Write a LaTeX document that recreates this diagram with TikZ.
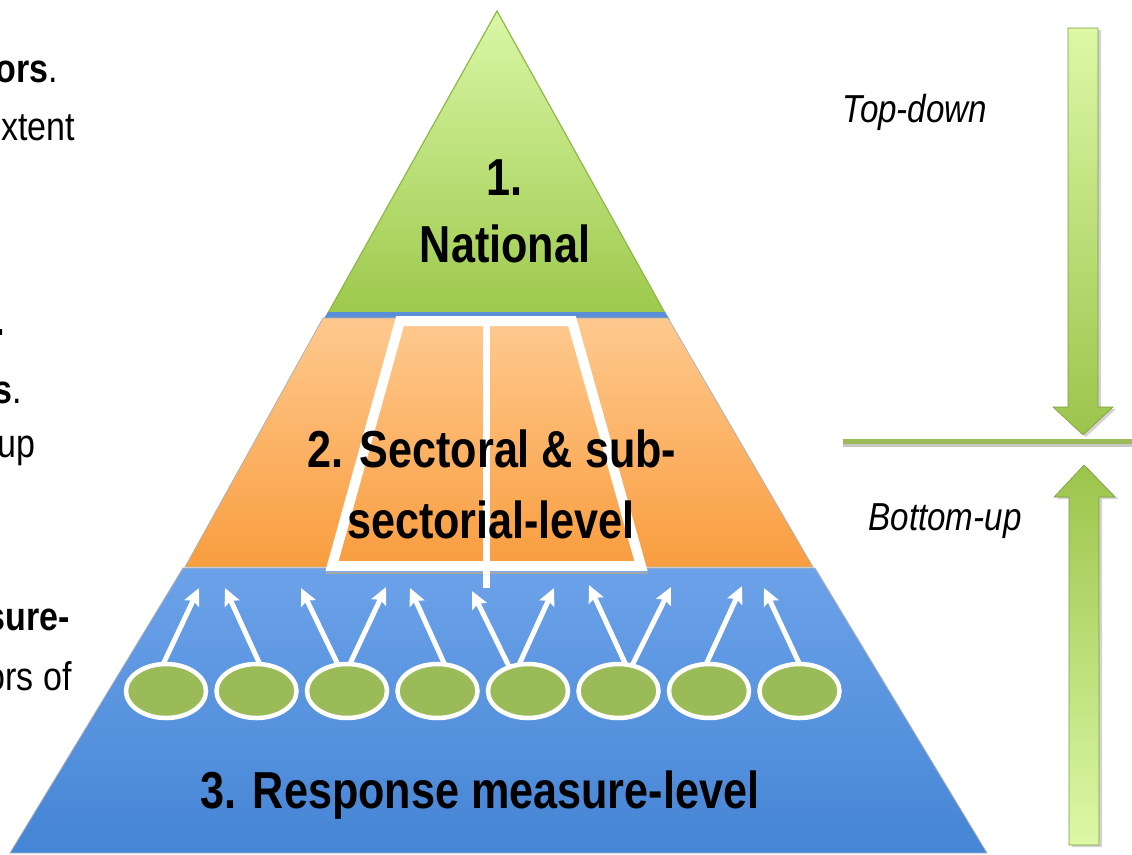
\documentclass[tikz,border=0pt]{standalone}
\usepackage{fontspec}
\setmainfont{Liberation Sans}[FakeStretch=0.85]
\newfontfamily\bignarrow{Liberation Sans}[FakeStretch=0.83]
\usetikzlibrary{arrows.meta,shapes.geometric,shadows}

\definecolor{grnTop}{HTML}{DAF7A6}
\definecolor{grnBot}{HTML}{9DC94C}
\definecolor{grnEdge}{HTML}{8DB848}
\definecolor{orTop}{HTML}{FEC98E}
\definecolor{orBot}{HTML}{F99D3F}
\definecolor{blTop}{HTML}{6CA2E9}
\definecolor{blBot}{HTML}{4585D5}
\definecolor{blStrip}{HTML}{5A8FD8}
\definecolor{olivegrn}{HTML}{9BBB59}
\definecolor{arrLight}{HTML}{DDF8A6}
\definecolor{arrDark}{HTML}{9CC44B}

\begin{document}
\begin{tikzpicture}[x=1pt,y=-1pt,
  bigtxt/.style={font=\bignarrow\fontsize{52}{60}\selectfont\bfseries, inner sep=0, anchor=base},
  sidetxt/.style={font=\fontsize{39}{45}\selectfont\itshape, inner sep=0, anchor=base},
  fragtxt/.style={font=\fontsize{40}{46}\selectfont, inner sep=0, anchor=base east},
  leafnode/.style={ellipse, fill=olivegrn, draw=white, line width=4.5pt, minimum width=80pt, minimum height=54pt, inner sep=0, outer sep=0},
  risearrow/.style={draw=white, line width=5pt, -{Stealth[length=17pt,width=16pt,inset=3pt]}},
  bandedge/.style={draw=black!30, line width=0.8pt},
  bigarrow/.style={draw=arrDark!80!black, line width=0.6pt, drop shadow={opacity=0.35, shadow xshift=3pt, shadow yshift=-2pt}},
]
\useasboundingbox (0,0) rectangle (1132,854);

% ---- pyramid ----
\shade[top color=grnTop, bottom color=grnBot, draw=grnEdge, line width=1.2pt]
  (497,11) -- (665,313) -- (328,313) -- cycle;
\fill[blStrip] (328,312) -- (665,312) -- (670,320) -- (323,320) -- cycle;
\shade[top color=orTop, bottom color=orBot, bandedge]
  (323,318) -- (668,318) -- (813,567) -- (185,567) -- cycle;
\shade[top color=blTop, bottom color=blBot, bandedge]
  (183,568) -- (815,568) -- (987,853) -- (10,853) -- cycle;

% inner framed trapezoid
\draw[black!35, line width=2pt] (326,573) -- (648,573);
\shade[top color=orTop, bottom color=orBot, draw=white, line width=10pt, line join=miter]
  (400,321) -- (572,321) -- (641,566) -- (332,566) -- cycle;
\coordinate (vt) at (486,321);
\coordinate (vb) at (486,588);
\draw[white, line width=7pt] (vt) -- (vb);

% ---- texts in pyramid ----
\node[bigtxt] (n1) at (504,195) {1.};
\node[bigtxt] (n2) at (505,262) {National};
\node[bigtxt] (s1) at (492,467) {2. Sectoral \& sub-};
\node[bigtxt] (s2) at (491,538) {sectorial-level};
\node[bigtxt] (r1) at (480,808) {3. Response measure-level};

% ---- response measures ----
\node[leafnode] (e1) at (166,691) {};
\node[leafnode] (e2) at (256.5,691) {};
\node[leafnode] (e3) at (347,691) {};
\node[leafnode] (e4) at (437.5,691) {};
\node[leafnode] (e5) at (528,691) {};
\node[leafnode] (e6) at (618.5,691) {};
\node[leafnode] (e7) at (709,691) {};
\node[leafnode] (e8) at (799.5,691) {};

\coordinate (t1) at (199,588);
\coordinate (t2) at (225,588);
\coordinate (t3) at (301,588);
\coordinate (t4) at (386,587);
\coordinate (t5) at (410,588);
\coordinate (t6) at (472,591);
\coordinate (t7) at (554,588);
\coordinate (t8) at (589,585);
\coordinate (t9) at (671,587);
\coordinate (t10) at (742,586);
\coordinate (t11) at (764,588);

\draw[risearrow] (e1.96) -- (t1);
\draw[risearrow] (e2.83) -- (t2);
\draw[risearrow] (e3.109) -- (t3);
\draw[risearrow] (e3.84) -- (t4);
\draw[risearrow] (e4.75) -- (t5);
\draw[risearrow] (e5.128) -- (t6);
\draw[risearrow] (e5.109) -- (t7);
\draw[risearrow] (e6.75) -- (t8);
\draw[risearrow] (e6.62) -- (t9);
\draw[risearrow] (e7.96) -- (t10);
\draw[risearrow] (e8.90) -- (t11);

% ---- right side ----
\shade[top color=arrLight, bottom color=arrDark, bigarrow]
  (1068,28) -- (1098,28) -- (1098,407) -- (1113,407) -- (1083,435) -- (1053,407) -- (1068,407) -- cycle;
\shade[top color=arrDark, bottom color=arrLight, bigarrow]
  (1084,465) -- (1115,497) -- (1099,497) -- (1099,845) -- (1069,845) -- (1069,497) -- (1054,497) -- cycle;
\coordinate (hl) at (843,441);
\coordinate (hr) at (1132,441);
\draw[black!22, line width=4pt] ([yshift=-4pt]hl) -- ([yshift=-4pt]hr);
\draw[olivegrn, line width=5pt] (hl) -- (hr);

\node[sidetxt] (td) at (915,122) {Top-down};
\node[sidetxt] (bu) at (945,530) {Bottom-up};

% ---- left text fragments ----
\node[fragtxt] (f1) at (58,82) {\textbf{ors}.};
\node[fragtxt] (f2) at (75,140) {xtent};
\node[fragtxt] (f3) at (5,335) {\textbf{.}};
\node[fragtxt] (f4) at (22,403) {\textbf{s}.};
\node[fragtxt] (f5) at (36,457) {up};
\node[fragtxt] (f6) at (70,630) {\textbf{sure-}};
\node[fragtxt] (f7) at (72,690) {ors of};
\end{tikzpicture}
\end{document}
